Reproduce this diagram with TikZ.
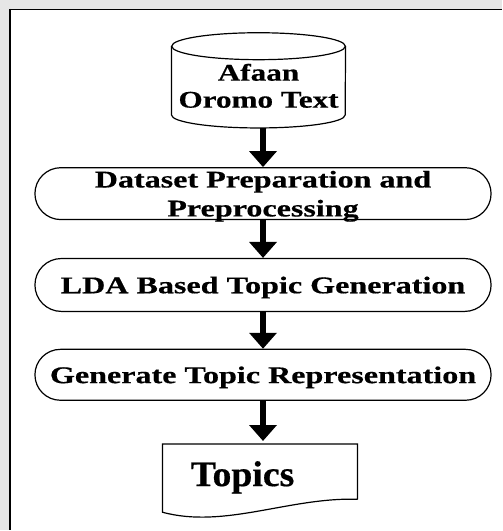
\documentclass[tikz,border=0pt]{standalone}
\usepackage{fontspec}
\setmainfont{Liberation Serif}
\newfontfamily\stepfont[FakeStretch=1.34,FakeBold=0.5]{Liberation Serif}
\newfontfamily\cylfont[FakeStretch=1.3,FakeBold=0.5]{Liberation Serif}
\newfontfamily\outfont[FakeStretch=1.05,FakeBold=0.5]{Liberation Serif}
\usetikzlibrary{arrows.meta,shapes.misc}
\definecolor{pagegray}{HTML}{E6E6E6}

\begin{document}
\begin{tikzpicture}[x=1pt,y=-1pt,
  stepbox/.style={rounded rectangle, draw=black, line width=1.2pt,
    minimum width=457pt, inner sep=0pt, align=center, text depth=0pt,
    font=\stepfont\bfseries\fontsize{24}{29}\selectfont},
  flowarrow/.style={line width=6.5pt, -{Triangle[width=27pt,length=16pt]}},
  outline/.style={draw=black, line width=1.2pt}]

% page background and frame
\fill[pagegray] (0,0) rectangle (503,531);
\fill[white] (10,10) rectangle (503,531);
\draw[line width=1.5pt] (10,9.5) -- (503,9.5);
\draw[line width=2pt] (10.5,9) -- (10.5,531);

% data source (cylinder)
\node[minimum width=174pt, minimum height=95pt, inner sep=0pt] (src) at (259,80.5) {};
\draw[outline] ([yshift=-13.5pt]src.north west) -- ([yshift=13pt]src.south west)
  arc[start angle=180, end angle=0, x radius=87, y radius=13]
  -- ([yshift=-13.5pt]src.north east);
\draw[outline] ([yshift=-13.5pt]src.north) ellipse[x radius=87, y radius=13.5];
\node[font=\cylfont\bfseries\fontsize{24}{27}\selectfont, align=center, inner sep=0pt]
  (srclabel) at (259,86) {Afaan\\Oromo Text};

% processing steps
\node[stepbox, minimum height=52pt] (dsp) at (263.5,194) {Dataset Preparation and\\Preprocessing};
\node[stepbox, minimum height=53pt] (lda) at (263.5,285.5) {LDA Based Topic Generation};
\node[stepbox, minimum height=51pt] (gen) at (263.5,375.5) {Generate Topic Representation};

% output document
\node[minimum width=195pt, minimum height=68pt, inner sep=0pt] (out) at (260.5,479) {};
\draw[outline] ([yshift=13pt]out.south east) -- (out.north east) -- (out.north west)
  -- (out.south west) .. controls (225,530) and (290,498) .. ([yshift=13pt]out.south east);
\node[font=\outfont\bfseries\fontsize{36}{40}\selectfont, inner sep=0pt, anchor=base]
  (outlabel) at (243,487) {Topics};

% connectors
\draw[flowarrow] (src.south -| dsp.north) -- (dsp.north);
\draw[flowarrow] (dsp.south) -- (lda.north);
\draw[flowarrow] (lda.south) -- (gen.north);
\draw[flowarrow, shorten >=3pt] (gen.south) -- (gen.south |- out.north);
\end{tikzpicture}
\end{document}
